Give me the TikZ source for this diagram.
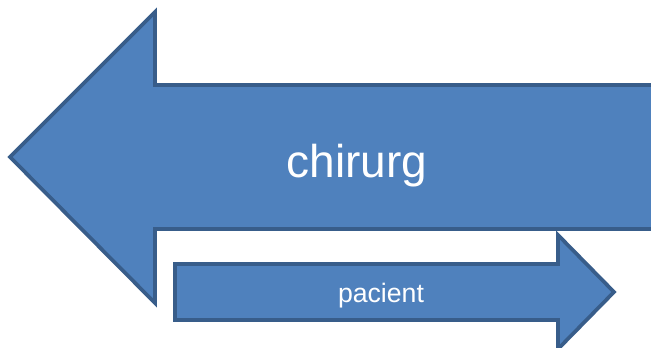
\documentclass[tikz,border=0pt]{standalone}
\usepackage{fontspec}
\setmainfont{Liberation Sans}
\definecolor{arrowfill}{HTML}{4F81BD}
\definecolor{arrowline}{HTML}{385D8A}
\begin{document}
\begin{tikzpicture}[x=0.75pt,y=-0.75pt,
    block/.style={fill=arrowfill,draw=arrowline,line width=2.8pt,line join=miter},
    label/.style={text=white,anchor=base,inner sep=0pt}]
    \useasboundingbox (0,0) rectangle (651,347);
    \clip (0,0) rectangle (651,347);

    % surgeon arrow, pointing left
    \path[block] (10,157) -- (155,12) -- (155,85) -- (660,85) -- (660,229)
        -- (155,229) -- (155,303) -- cycle;
    % patient arrow, pointing right
    \path[block] (175,264) -- (558,264) -- (558,235) -- (614,292)
        -- (558,349) -- (558,320) -- (175,320) -- cycle;

    \node[label,font=\fontsize{34.5}{40}\selectfont] (chirurg) at (357,177) {chirurg};
    \node[label,font=\fontsize{20}{24}\selectfont] (pacient) at (381,302) {pacient};
\end{tikzpicture}
\end{document}
